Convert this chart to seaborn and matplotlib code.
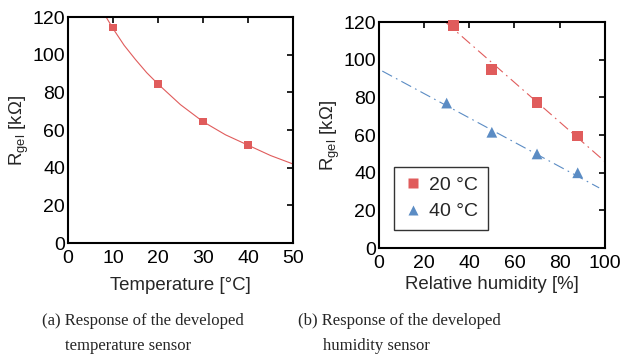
import matplotlib
matplotlib.use("Agg")
import matplotlib.pyplot as plt
import seaborn as sns
import pandas as pd

# (a) temperature sensor
temp_c = [10, 20, 30, 40]
temp_r = [114.5, 84.5, 64.5, 52]
# fitted curve
fit_t = [8.5, 10, 12.5, 15, 17.5, 20, 25, 30, 35, 40, 45, 50]
fit_r = [120, 114, 105, 97.5, 90.5, 84.5, 73.5, 64.5, 57.5, 52, 46.5, 42]

# (b) humidity sensor
rh_20 = [33, 50, 70, 88]
r_20 = [118, 95, 77.5, 59.5]
rh_40 = [30, 50, 70, 88]
r_40 = [77, 61.5, 50, 40]
fit20_x = [29.5, 100]
fit20_y = [120, 46]
fit40_x = [1.5, 97.5]
fit40_y = [94, 32]

RED = "#e05c5c"
BLUE = "#5b8cc4"

sns.set_style("white")
plt.rcParams["font.family"] = ["Liberation Sans", "DejaVu Sans"]
plt.rcParams["mathtext.fontset"] = "custom"
plt.rcParams["mathtext.rm"] = "Liberation Sans"

fig = plt.figure(figsize=(6.4, 3.56), dpi=100)
ax1 = fig.add_axes([0.106, 0.317, 0.352, 0.635])
ax2 = fig.add_axes([0.592, 0.303, 0.353, 0.635])

sns.lineplot(x=fit_t, y=fit_r, ax=ax1, color=RED, lw=0.8, sort=False, estimator=None)
sns.scatterplot(x=temp_c, y=temp_r, ax=ax1, color=RED, marker="s", s=30,
                edgecolor="none", clip_on=False, zorder=3)
ax1.set_xlim(0, 50)
ax1.set_xticks(range(0, 51, 10))
ax1.set_xlabel("Temperature [°C]", fontsize=13.4, labelpad=7)

df = pd.DataFrame({
    "rh": rh_20 + rh_40,
    "r": r_20 + r_40,
    "T": ["20 °C"] * len(rh_20) + ["40 °C"] * len(rh_40),
})
sns.lineplot(x=fit20_x, y=fit20_y, ax=ax2, color=RED, lw=0.8)
ax2.lines[-1].set_dashes([10, 4, 1.5, 4])
sns.lineplot(x=fit40_x, y=fit40_y, ax=ax2, color=BLUE, lw=0.8)
ax2.lines[-1].set_dashes([10, 4, 1.5, 4])
sns.scatterplot(data=df, x="rh", y="r", hue="T", style="T", ax=ax2,
                palette=[RED, BLUE], markers=["s", "^"], s=60,
                edgecolor="none", clip_on=False, zorder=3)
ax2.set_xlim(0, 100)
ax2.set_xticks(range(0, 101, 20))
ax2.set_xlabel("Relative humidity [%]", fontsize=13.4, labelpad=3)
leg = ax2.legend(loc="lower left", bbox_to_anchor=(0.066, 0.08), fontsize=14,
                 frameon=True, fancybox=False, edgecolor="black", borderaxespad=0,
                 handletextpad=0.3, borderpad=0.5, labelspacing=0.45, handlelength=1.0)
leg.get_frame().set_linewidth(1.0)

for ax in (ax1, ax2):
    ax.set_ylim(0, 120)
    ax.set_yticks(range(0, 121, 20))
    ax.set_ylabel("R$_{\\mathrm{gel}}$ [kΩ]", fontsize=13.4, labelpad=1)
    ax.tick_params(direction="in", length=4, width=1.2, labelsize=14,
                   top=True, right=True, colors="black")
    ax.tick_params(axis="y", pad=2)
    ax.tick_params(axis="x", pad=5)
    for sp in ax.spines.values():
        sp.set_visible(True)
        sp.set_color("black")
        sp.set_linewidth(1.5)

cap_kw = dict(family="Liberation Serif", fontsize=12, va="center")
fig.text(42 / 640, 1 - 321 / 356, "(a) Response of the developed", **cap_kw)
fig.text(65 / 640, 1 - 346 / 356, "temperature sensor", **cap_kw)
fig.text(298 / 640, 1 - 321 / 356, "(b) Response of the developed", **cap_kw)
fig.text(323 / 640, 1 - 346 / 356, "humidity sensor", **cap_kw)

fig.savefig("out.png", dpi=100)
